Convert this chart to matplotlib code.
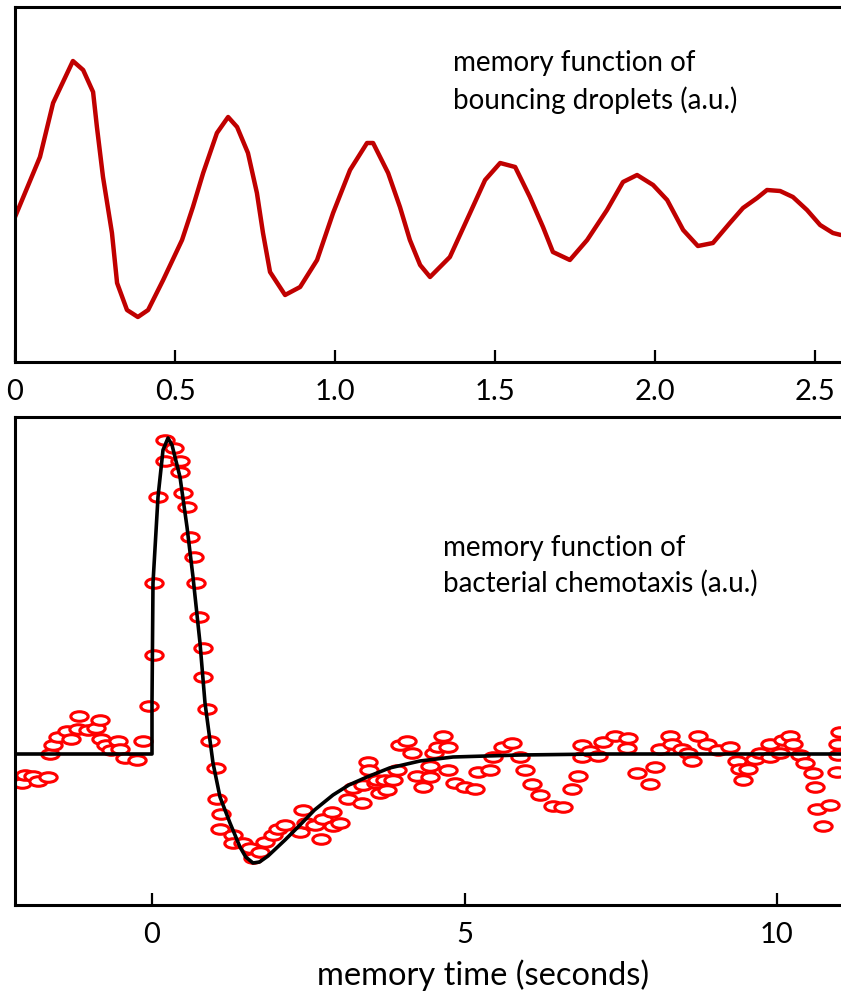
import matplotlib
matplotlib.use("Agg")
import matplotlib.pyplot as plt
from matplotlib.path import Path
from matplotlib.transforms import Affine2D

plt.rcParams['font.family'] = ['Lato', 'DejaVu Sans']

# --- top panel: memory function of bouncing droplets (a.u.) ---
drop_t = [0.0, 0.078, 0.119, 0.181, 0.213, 0.244, 0.256, 0.275, 0.303, 0.319,
          0.35, 0.384, 0.416, 0.463, 0.522, 0.556, 0.588, 0.631, 0.666, 0.694,
          0.728, 0.756, 0.775, 0.797, 0.844, 0.891, 0.944, 0.994, 1.047, 1.1,
          1.119, 1.166, 1.203, 1.234, 1.266, 1.297, 1.359, 1.422, 1.469, 1.516,
          1.563, 1.609, 1.65, 1.681, 1.734, 1.788, 1.85, 1.9, 1.944, 1.994,
          2.038, 2.088, 2.134, 2.181, 2.234, 2.275, 2.319, 2.35, 2.391, 2.431,
          2.475, 2.516, 2.556, 2.581]
drop_m = [-0.02, 0.58, 1.12, 1.54, 1.45, 1.23, 0.88, 0.38, -0.18, -0.68,
          -0.95, -1.02, -0.95, -0.65, -0.25, 0.08, 0.42, 0.82, 0.98, 0.88,
          0.62, 0.22, -0.18, -0.57, -0.80, -0.72, -0.45, 0.02, 0.45, 0.72,
          0.72, 0.42, 0.08, -0.25, -0.50, -0.62, -0.42, 0.02, 0.35, 0.52,
          0.48, 0.18, -0.12, -0.37, -0.45, -0.25, 0.05, 0.33, 0.40, 0.30,
          0.15, -0.15, -0.31, -0.28, -0.08, 0.07, 0.17, 0.25, 0.24, 0.18,
          0.05, -0.10, -0.18, -0.20]
top_ticks = [0, 0.5, 1.0, 1.5, 2.0, 2.5]
top_labels = ['0', '0.5', '1.0', '1.5', '2.0', '2.5']

# --- bottom panel: memory function of bacterial chemotaxis (a.u.) ---
chemo_t = [-2.08, -2.03, -1.90, -1.82, -1.66, -1.63, -1.58, -1.50, -1.36, -1.30,
           -1.18, -1.17, -1.02, -0.90, -0.83, -0.82, -0.74, -0.66, -0.54, -0.51,
           -0.43, -0.24, -0.14, -0.05,
           0.03, 0.03, 0.10, 0.21, 0.21, 0.35, 0.45, 0.45, 0.50, 0.56,
           0.61, 0.67, 0.70, 0.75, 0.82, 0.82, 0.88, 0.93, 1.02, 1.04,
           1.10, 1.09, 1.30, 1.30, 1.46, 1.57, 1.62, 1.73, 1.81, 1.94,
           2.02, 2.13, 2.37, 2.42, 2.46, 2.61, 2.70, 2.74, 2.88, 2.90,
           3.01, 3.14, 3.22, 3.36, 3.38, 3.46, 3.47, 3.58, 3.60, 3.65,
           3.73, 3.76, 3.86, 3.92, 3.97, 4.08, 4.16, 4.24, 4.34, 4.45,
           4.45, 4.51, 4.58, 4.66, 4.74, 4.74, 4.85, 5.01, 5.17, 5.22,
           5.41, 5.46, 5.62, 5.76, 5.89, 5.97, 6.08, 6.21, 6.42, 6.58,
           6.72, 6.82, 6.88, 6.88, 7.01, 7.14, 7.22, 7.41, 7.60, 7.62,
           7.76, 7.97, 8.05, 8.13, 8.29, 8.32, 8.48, 8.58, 8.64, 8.74,
           8.88, 9.06, 9.25, 9.36, 9.41, 9.46, 9.54, 9.65, 9.73, 9.89,
           9.89, 10.05, 10.10, 10.21, 10.26, 10.37, 10.45, 10.58, 10.61, 10.64,
           10.74, 10.85, 10.96, 10.98, 10.98, 11.01]
chemo_m = [-0.29, -0.21, -0.22, -0.27, -0.23, 0.00, 0.09, 0.17, 0.23, 0.15,
           0.25, 0.38, 0.24, 0.26, 0.34, 0.15, 0.09, 0.04, 0.13, 0.05,
           -0.04, -0.06, 0.13, 0.48,
           0.99, 1.71, 2.57, 2.93, 3.14, 3.06, 2.93, 2.82, 2.61, 2.47,
           2.17, 1.97, 1.71, 1.37, 1.06, 0.77, 0.45, 0.13, -0.14, -0.45,
           -0.60, -0.75, -0.81, -0.89, -0.89, -0.94, -1.04, -0.98, -0.88, -0.81,
           -0.75, -0.71, -0.78, -0.56, -0.69, -0.71, -0.85, -0.65, -0.58, -0.72,
           -0.69, -0.45, -0.34, -0.49, -0.31, -0.08, -0.16, -0.29, -0.26, -0.39,
           -0.26, -0.36, -0.26, -0.16, 0.09, 0.13, 0.01, -0.22, -0.33, -0.23,
           -0.12, 0.01, 0.07, 0.18, 0.07, -0.16, -0.29, -0.33, -0.35, -0.18,
           -0.16, -0.03, 0.07, 0.11, -0.03, -0.16, -0.30, -0.41, -0.52, -0.53,
           -0.35, -0.22, -0.03, 0.09, 0.03, -0.02, 0.12, 0.18, 0.06, 0.16,
           -0.19, -0.30, -0.13, 0.05, 0.18, 0.10, 0.05, 0.01, -0.07, 0.18,
           0.10, 0.04, 0.07, -0.07, -0.15, -0.26, -0.15, -0.05, 0.01, 0.10,
           -0.03, 0.01, 0.14, 0.18, 0.10, -0.01, -0.09, -0.19, -0.33, -0.55,
           -0.72, -0.51, -0.18, -0.01, 0.10, 0.22]

# fitted curve
fit_t = [-2.19, 0.0, 0.0, 0.016, 0.096, 0.176, 0.256, 0.32, 0.448, 0.56,
         0.656, 0.768, 0.848, 0.976, 1.088, 1.248, 1.408, 1.50, 1.616, 1.72,
         1.856, 2.128, 2.368, 2.60, 2.896, 3.15, 3.44, 3.80, 4.288, 4.816,
         5.888, 7.168, 11.02]
fit_m = [0.0, 0.0, 0.51, 1.71, 2.57, 3.04, 3.16, 3.09, 2.77, 2.27,
         1.77, 1.11, 0.51, -0.09, -0.43, -0.69, -0.93, -1.03, -1.09, -1.08,
         -1.02, -0.86, -0.71, -0.56, -0.41, -0.31, -0.23, -0.14, -0.07, -0.03,
         -0.01, 0.0, 0.0]
bottom_ticks = [0, 5, 10]

W, H = 841, 993
fig = plt.figure(figsize=(W / 100, H / 100), dpi=100)

# ellipse marker
ellipse = Path.unit_circle().transformed(Affine2D().scale(1.0, 0.55))


def style_axes(ax):
    for side in ['left', 'top', 'bottom']:
        ax.spines[side].set_linewidth(2.2)
    ax.spines['right'].set_visible(False)
    ax.set_yticks([])
    ax.tick_params(axis='x', direction='in', length=9, width=1.6,
                   labelsize=21, pad=12)


ax1 = fig.add_axes([15 / W, 1 - 362 / H, 1 - 15 / W, (362 - 7) / H])
ax1.plot(drop_t, drop_m, color='#c00000', lw=3.2, solid_joinstyle='round',
         solid_capstyle='round')
ax1.set_xlim(0, (W - 15) / 320)
ax1.set_ylim(-1.47, 2.08)
ax1.set_xticks(top_ticks)
ax1.set_xticklabels(top_labels)
style_axes(ax1)
fig.text(453 / W, 1 - 63 / H, 'memory function of', fontsize=20,
         va='center', ha='left')
fig.text(453 / W, 1 - 100 / H, 'bouncing droplets (a.u.)', fontsize=20,
         va='center', ha='left')

ax2 = fig.add_axes([15 / W, 1 - 905 / H, 1 - 15 / W, (905 - 417) / H])
ax2.plot(chemo_t, chemo_m, ls='none', marker=ellipse, ms=12.5,
         mfc='white', mec='#ff0000', mew=2.2, zorder=2)
ax2.plot(fit_t, fit_m, color='black', lw=2.6, zorder=3,
         solid_joinstyle='round')
ax2.set_xlim(-137 / 62.5, (W - 152) / 62.5)
ax2.set_ylim(-1.51, 3.37)
ax2.set_xticks(bottom_ticks)
style_axes(ax2)
fig.text(483 / W, 1 - 975 / H, 'memory time (seconds)', fontsize=23.5,
         va='center', ha='center')
fig.text(443 / W, 1 - 548 / H, 'memory function of', fontsize=20,
         va='center', ha='left')
fig.text(443 / W, 1 - 583 / H, 'bacterial chemotaxis (a.u.)', fontsize=20,
         va='center', ha='left')

fig.savefig('out.png', dpi=100)
